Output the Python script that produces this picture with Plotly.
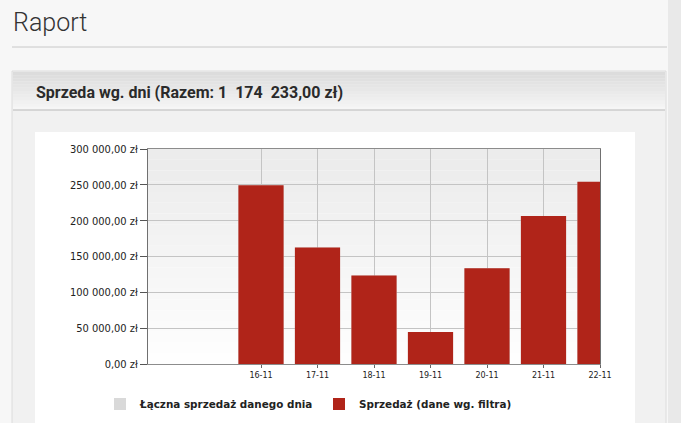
import plotly.graph_objects as go

# ---- data ----
days = ["16-11", "17-11", "18-11", "19-11", "20-11", "21-11", "22-11"]
total_values = [249500, 162500, 123500, 44500, 133500, 206500, 254200]
filtered_values = [249500, 162500, 123500, 44500, 133500, 206500, 254200]
y_tick_values = [0, 50000, 100000, 150000, 200000, 250000, 300000]
y_tick_labels = ["0,00 zł", "50 000,00 zł", "100 000,00 zł", "150 000,00 zł",
                 "200 000,00 zł", "250 000,00 zł", "300 000,00 zł"]
page_title = "Raport"
panel_title = "Sprzeda wg. dni (Razem: 1  174  233,00 zł)"
legend_total = "Łączna sprzedaż danego dnia"
legend_filtered = "Sprzedaż (dane wg. filtra)"

W, H = 681, 423
L, R, T, B = 148, 600, 149, 364  # plot area in pixels

def px(x):
    return (x - L) / (R - L)

def py(y):
    return (B - y) / (B - T)

x_idx = list(range(len(days)))

fig = go.Figure()
fig.add_trace(go.Bar(x=x_idx, y=total_values, name=legend_total,
                     marker=dict(color="#d9d9d9", line=dict(width=0)), width=0.8))
fig.add_trace(go.Bar(x=x_idx, y=filtered_values, name=legend_filtered,
                     marker=dict(color="#b02419", line=dict(width=0)), width=0.8))

shapes = []
# separator line under title
shapes.append(dict(type="line", xref="paper", yref="paper", x0=px(12), x1=px(667), y0=py(47), y1=py(47),
                   line=dict(color="#c8c8c8", width=1), layer="below"))
# panel body
shapes.append(dict(type="rect", xref="paper", yref="paper", x0=px(12), x1=px(666), y0=py(71), y1=py(H + 5),
                   fillcolor="#f1f1f1", line=dict(color="#dcdcdc", width=1), layer="below"))
# panel header gradient
n = 12
for i in range(n):
    y0 = 72 + i * (110 - 72) / n
    y1 = 72 + (i + 1) * (110 - 72) / n
    g = int(220 + (246 - 220) * i / (n - 1))
    shapes.append(dict(type="rect", xref="paper", yref="paper", x0=px(13), x1=px(665), y0=py(y0), y1=py(y1),
                       fillcolor=f"rgb({g},{g},{g})", line=dict(width=0), layer="below"))
shapes.append(dict(type="line", xref="paper", yref="paper", x0=px(13), x1=px(665), y0=py(110), y1=py(110),
                   line=dict(color="#b9b9b9", width=1), layer="below"))
# white chart box
shapes.append(dict(type="rect", xref="paper", yref="paper", x0=px(35), x1=px(635), y0=py(132), y1=py(H + 5),
                   fillcolor="#ffffff", line=dict(width=0), layer="below"))
# right page edge strip
shapes.append(dict(type="rect", xref="paper", yref="paper", x0=px(668), x1=px(W + 2), y0=py(-2), y1=py(H + 5),
                   fillcolor="#e9e9e9", line=dict(width=0), layer="below"))
# plot area gradient
n = 20
for i in range(n):
    g = int(236 + (254 - 236) * i / (n - 1))
    shapes.append(dict(type="rect", xref="paper", yref="paper", x0=0, x1=1, y0=1 - i / n, y1=1 - (i + 1) / n,
                       fillcolor=f"rgb({g},{g},{g})", line=dict(width=0), layer="below"))

fig.update_layout(
    width=W, height=H,
    margin=dict(l=L, r=W - R, t=T, b=H - B, pad=0, autoexpand=False),
    paper_bgcolor="#f7f7f7",
    plot_bgcolor="rgba(0,0,0,0)",
    barmode="overlay",
    showlegend=True,
    shapes=shapes,
    font=dict(family="DejaVu Sans", color="#222222"),
    legend=dict(orientation="h", x=px(100), xanchor="left", y=py(404), yanchor="middle",
                font=dict(family="DejaVu Sans", size=10.4, color="#222222", weight="bold"),
                bgcolor="rgba(0,0,0,0)", itemwidth=30, traceorder="normal",
                entrywidth=174, entrywidthmode="pixels"),
    annotations=[
        dict(text=page_title, xref="paper", yref="paper", x=px(11), y=py(22), xanchor="left", yanchor="middle",
             showarrow=False, font=dict(family="Roboto", size=25, color="#333333", weight=300)),
        dict(text=panel_title, xref="paper", yref="paper", x=px(34), y=py(92), xanchor="left", yanchor="middle",
             showarrow=False, font=dict(family="Roboto", size=16, color="#2a2a2a", weight="bold")),
    ],
    xaxis=dict(
        range=[-2, 6], tickmode="array", tickvals=x_idx, ticktext=days,
        showgrid=True, gridcolor="#c4c4c4", gridwidth=1,
        showline=True, linecolor="#8c8c8c", mirror=True,
        ticks="outside", ticklen=3, tickcolor="#666666",
        tickfont=dict(family="DejaVu Sans", size=8, color="#222222"),
        zeroline=False, fixedrange=True, automargin=False,
    ),
    yaxis=dict(
        range=[0, 300000], tickmode="array", tickvals=y_tick_values, ticktext=y_tick_labels,
        showgrid=True, gridcolor="#c4c4c4", gridwidth=1,
        showline=True, linecolor="#707070", mirror=True,
        ticks="outside", ticklen=7, tickcolor="#555555",
        tickfont=dict(family="DejaVu Sans Condensed, DejaVu Sans", size=11, color="#222222"),
        zeroline=False, fixedrange=True, automargin=False,
    ),
)

fig.write_html("out.html", config={"displayModeBar": False},
               post_script="document.body.style.margin='0';document.body.style.background='#f7f7f7';")
